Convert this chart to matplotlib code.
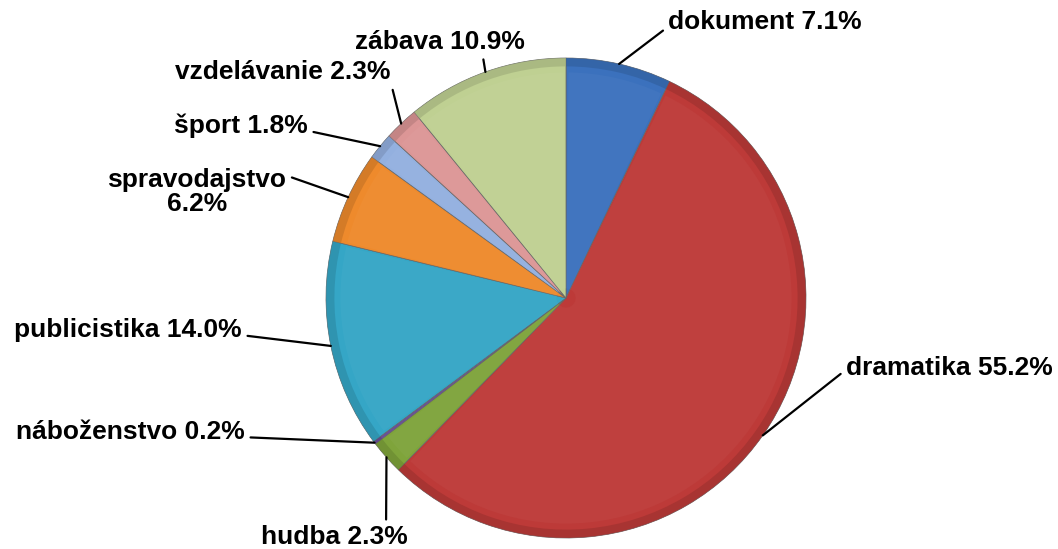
import numpy as np
import matplotlib
matplotlib.use('Agg')
import matplotlib.pyplot as plt
from matplotlib.patches import Wedge
from matplotlib.colors import to_rgb

# podiel žánrov vo vysielaní
categories = ['dokument', 'dramatika', 'hudba', 'náboženstvo', 'publicistika',
              'spravodajstvo', 'šport', 'vzdelávanie', 'zábava']
shares = [7.1, 55.2, 2.3, 0.2, 14.0, 6.2, 1.8, 2.3, 10.9]
label_texts = ['dokument 7.1%', 'dramatika 55.2%', 'hudba 2.3%', 'náboženstvo 0.2%',
               'publicistika 14.0%', 'spravodajstvo\n6.2%', 'šport 1.8%',
               'vzdelávanie 2.3%', 'zábava 10.9%']

colors = ['#3B71BD', '#BD3A38', '#7FA43B', '#6B4E9A', '#35A6C6',
          '#EE8A2C', '#93B0DF', '#DC9696', '#BFD092']

# label placement (data coords, pie radius = 1) + alignment + where the leader meets the text
label_pos = [(0.425, 1.15), (1.165, -0.29), (-0.658, -0.996), (-1.3375, -0.56),
             (-1.35, -0.135), (-1.5375, 0.44), (-1.075, 0.717), (-0.733, 0.94),
             (-0.525, 1.067)]
label_ha = ['left', 'left', 'right', 'right', 'right', 'center', 'right', 'right', 'center']
label_rel = [(0, 0.3), (0, 0.4), (0.85, 1.0), (1.0, 0.3), (1.0, 0.3), (1.0, 0.85),
             (1.0, 0.3), (1.0, 0.2), (0.75, 0.0)]

plt.rcParams['font.family'] = ['Liberation Sans', 'DejaVu Sans']

fig = plt.figure(figsize=(10.58, 5.49), dpi=100)
ax = fig.add_axes([0, 0, 1, 1])

wedges, _ = ax.pie(shares, colors=colors, startangle=90, counterclock=False,
                   radius=1.0, center=(0, 0),
                   wedgeprops=dict(edgecolor='#666666', linewidth=0.5))

# jednoduchý "bevel": tmavší okraj a svetlejšia vnútorná plocha
for w, c in zip(wedges, colors):
    rgb = np.array(to_rgb(c))
    t1, t2 = sorted([w.theta1, w.theta2])
    dark = tuple(rgb * 0.82)
    light = tuple(1 - (1 - rgb) * 0.88)
    ax.add_patch(Wedge((0, 0), 1.0, t1, t2, width=0.035, facecolor=dark,
                       edgecolor='none', alpha=0.6))
    if t2 - t1 > 2:
        ax.add_patch(Wedge((0, 0), 0.94, t1 + 0.6, t2 - 0.6, width=0.9,
                           facecolor=light, edgecolor='none', alpha=0.25))

cum = np.cumsum([0] + shares[:-1])
for i, txt in enumerate(label_texts):
    mid = 90 - (cum[i] + shares[i] / 2) * 3.6
    a = np.deg2rad(mid)
    edge = (np.cos(a), np.sin(a))
    ax.annotate(txt, xy=edge, xytext=label_pos[i], ha=label_ha[i], va='center',
                fontsize=19, fontweight='bold', color='black', linespacing=1.0,
                arrowprops=dict(arrowstyle='-', color='black', lw=1.6,
                                shrinkA=2, shrinkB=0, relpos=label_rel[i]))

ax.set_xlim(-566 / 240, (1058 - 566) / 240)
ax.set_ylim(-(549 - 298) / 240, 298 / 240)
ax.set_aspect('auto')
ax.axis('off')

fig.savefig('out.png', dpi=100)
